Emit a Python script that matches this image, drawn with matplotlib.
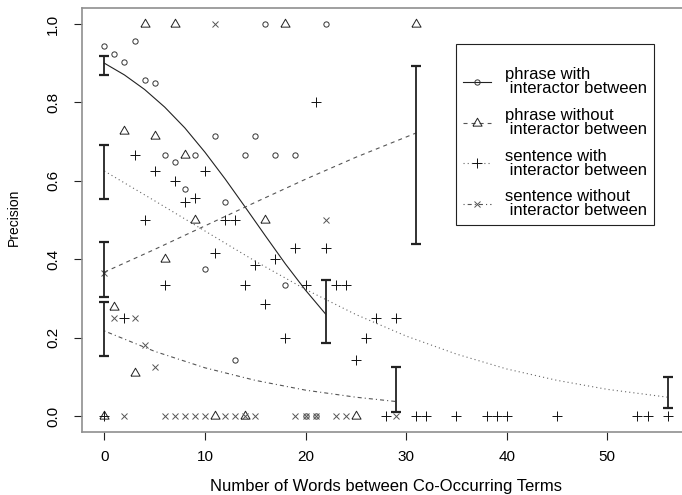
import numpy as np
import matplotlib as mpl
mpl.use('Agg')
import matplotlib.pyplot as plt
from matplotlib.lines import Line2D

plt.rcParams['font.family'] = ['Liberation Sans', 'DejaVu Sans']
plt.rcParams['lines.scale_dashes'] = False

# observed precision values, one list pair per group
pw_x = [0, 1, 2, 3, 4, 5, 6, 7, 8, 9, 10, 11, 12, 13, 14, 15, 16, 17, 18, 19, 20, 21, 22]
pw_y = [0.944, 0.923, 0.903, 0.957, 0.857, 0.85, 0.667, 0.647, 0.579, 0.667, 0.375, 0.714,
        0.545, 0.143, 0.667, 0.714, 1.0, 0.667, 0.333, 0.667, 0.0, 0.0, 1.0]

pwo_x = [0, 1, 2, 3, 4, 5, 6, 7, 8, 9, 11, 14, 16, 18, 25, 31]
pwo_y = [0.0, 0.278, 0.727, 0.111, 1.0, 0.714, 0.4, 1.0, 0.667, 0.5, 0.0, 0.0, 0.5, 1.0, 0.0, 1.0]

sw_x = [0, 2, 3, 4, 5, 6, 7, 8, 9, 10, 11, 12, 13, 14, 15, 16, 17, 18, 19, 20, 21, 22, 23, 24,
        25, 26, 27, 28, 29, 31, 32, 35, 38, 39, 40, 45, 53, 54, 56]
sw_y = [0.0, 0.25, 0.667, 0.5, 0.625, 0.333, 0.6, 0.545, 0.556, 0.625, 0.417, 0.5, 0.5, 0.333,
        0.385, 0.286, 0.4, 0.2, 0.429, 0.333, 0.8, 0.429, 0.333, 0.333, 0.143, 0.2, 0.25, 0.0,
        0.25, 0.0, 0.0, 0.0, 0.0, 0.0, 0.0, 0.0, 0.0, 0.0, 0.0]

swo_x = [0, 1, 2, 3, 4, 5, 6, 7, 8, 9, 10, 11, 12, 13, 14, 15, 19, 20, 21, 22, 23, 24, 29]
swo_y = [0.364, 0.25, 0.0, 0.25, 0.182, 0.125, 0.0, 0.0, 0.0, 0.0, 0.0, 1.0, 0.0, 0.0, 0.0, 0.0,
         0.0, 0.0, 0.0, 0.5, 0.0, 0.0, 0.0]

# fitted curves
fit_pw_x = [0, 2, 4, 6, 8, 10, 12, 14, 16, 18, 20, 22]
fit_pw_y = [0.900, 0.870, 0.833, 0.788, 0.735, 0.673, 0.605, 0.533, 0.460, 0.388, 0.321, 0.260]
fit_pwo_x = [0, 5, 10, 15, 20, 25, 31]
fit_pwo_y = [0.367, 0.425, 0.485, 0.545, 0.604, 0.660, 0.722]
fit_sw_x = [0, 5, 10, 15, 20, 25, 30, 35, 40, 45, 50, 56]
fit_sw_y = [0.625, 0.549, 0.472, 0.395, 0.323, 0.259, 0.204, 0.158, 0.120, 0.091, 0.068, 0.048]
fit_swo_x = [0, 5, 10, 15, 20, 25, 29]
fit_swo_y = [0.217, 0.165, 0.123, 0.091, 0.066, 0.048, 0.037]

# interval ends at the two ends of each curve
ci_pw_lo, ci_pw_hi = [0.870, 0.185], [0.918, 0.346]
ci_pwo_lo, ci_pwo_hi = [0.304, 0.440], [0.444, 0.893]
ci_sw_lo, ci_sw_hi = [0.553, 0.020], [0.691, 0.0995]
ci_swo_lo, ci_swo_hi = [0.153, 0.010], [0.291, 0.125]

labels = ['phrase with\n interactor between', 'phrase without\n interactor between',
          'sentence with\n interactor between', 'sentence without\n interactor between']

fig = plt.figure(figsize=(6.82, 4.95), dpi=100, facecolor='white')
ax = fig.add_axes([81.8/682, 1-431.7/495, 608.4/682, 423.4/495])

# triangle like R's pch 2
tri = [(-0.866, -0.5), (0.866, -0.5), (0.0, 1.0), (-0.866, -0.5)]

dash = (0, (2.9, 2.9))
dot = (0, (0.8, 2.2))
dotdash = (0, (0.8, 2.2, 2.9, 2.2))

ax.plot(pw_x, pw_y, linestyle='none', marker='o', ms=3.8, mfc='none', mec='#333333', mew=0.7)
ax.plot(pwo_x, pwo_y, linestyle='none', marker=tri, ms=7.6, mfc='none', mec='#222222', mew=0.7)
ax.plot(sw_x, sw_y, linestyle='none', marker='+', ms=6.5, mec='#111111', mew=0.7)
ax.plot(swo_x, swo_y, linestyle='none', marker='x', ms=4.8, mec='#555555', mew=0.7)

ax.plot(fit_pw_x, fit_pw_y, color='#222222', lw=0.8, linestyle='-')
ax.plot(fit_pwo_x, fit_pwo_y, color='#555555', lw=0.8, linestyle=dash)
ax.plot(fit_sw_x, fit_sw_y, color='#666666', lw=0.8, linestyle=dot)
ax.plot(fit_swo_x, fit_swo_y, color='#555555', lw=0.8, linestyle=dotdash)

for fx, fy, lo, hi in [(fit_pw_x, fit_pw_y, ci_pw_lo, ci_pw_hi),
                       (fit_pwo_x, fit_pwo_y, ci_pwo_lo, ci_pwo_hi),
                       (fit_sw_x, fit_sw_y, ci_sw_lo, ci_sw_hi),
                       (fit_swo_x, fit_swo_y, ci_swo_lo, ci_swo_hi)]:
    ex = [fx[0], fx[-1]]
    ey = np.array([fy[0], fy[-1]])
    yerr = [ey - np.array(lo), np.array(hi) - ey]
    ax.errorbar(ex, ey, yerr=yerr, fmt='none', ecolor='#222222', elinewidth=1.3,
                capsize=3.8, capthick=1.6)

ax.set_xlim(-2.24, 58.24)
ax.set_ylim(-0.04, 1.04)
ax.set_xticks([0, 10, 20, 30, 40, 50])
ax.set_yticks([0.0, 0.2, 0.4, 0.6, 0.8, 1.0])
ax.set_yticklabels(['0.0', '0.2', '0.4', '0.6', '0.8', '1.0'], rotation=90, va='center')
ax.tick_params(axis='both', direction='out', length=5.5, width=0.8, color='#222222',
               labelsize=11, top=False, right=False)
ax.tick_params(axis='x', pad=8)
ax.tick_params(axis='y', pad=10)
for s in ax.spines.values():
    s.set_color('#8f8f8f')
    s.set_linewidth(1.2)

ax.set_xlabel('Number of Words between Co-Occurring Terms', fontsize=12, va='center')
ax.xaxis.set_label_coords(0.5, -0.1306)
ax.set_ylabel('Precision', fontsize=10, va='center')
ax.yaxis.set_label_coords(-0.1114, 0.507)

handles = [
    Line2D([], [], color='#222222', lw=0.8, linestyle='-', marker='o', ms=3.8, mfc='none',
           mec='#333333', mew=0.7),
    Line2D([], [], color='#555555', lw=0.8, linestyle=dash, marker=tri, ms=7.6, mfc='none',
           mec='#222222', mew=0.7),
    Line2D([], [], color='#666666', lw=0.8, linestyle=dot, marker='+', ms=6.5, mec='#111111',
           mew=0.7),
    Line2D([], [], color='#555555', lw=0.8, linestyle=dotdash, marker='x', ms=4.8,
           mec='#555555', mew=0.7),
]
leg = ax.legend(handles, labels, loc='upper left', bbox_to_anchor=(456/682, 1-44/495),
                bbox_transform=fig.transFigure, borderaxespad=0, fontsize=12,
                fancybox=False, edgecolor='#222222', framealpha=1, borderpad=0.4,
                handlelength=1.7, handletextpad=0.85, labelspacing=0.7,
                title=' ', title_fontsize=4)
leg.get_frame().set_linewidth(0.8)
for t in leg.get_texts():
    t.set_linespacing(0.92)

plt.savefig('out.png', dpi=100, facecolor='white')
